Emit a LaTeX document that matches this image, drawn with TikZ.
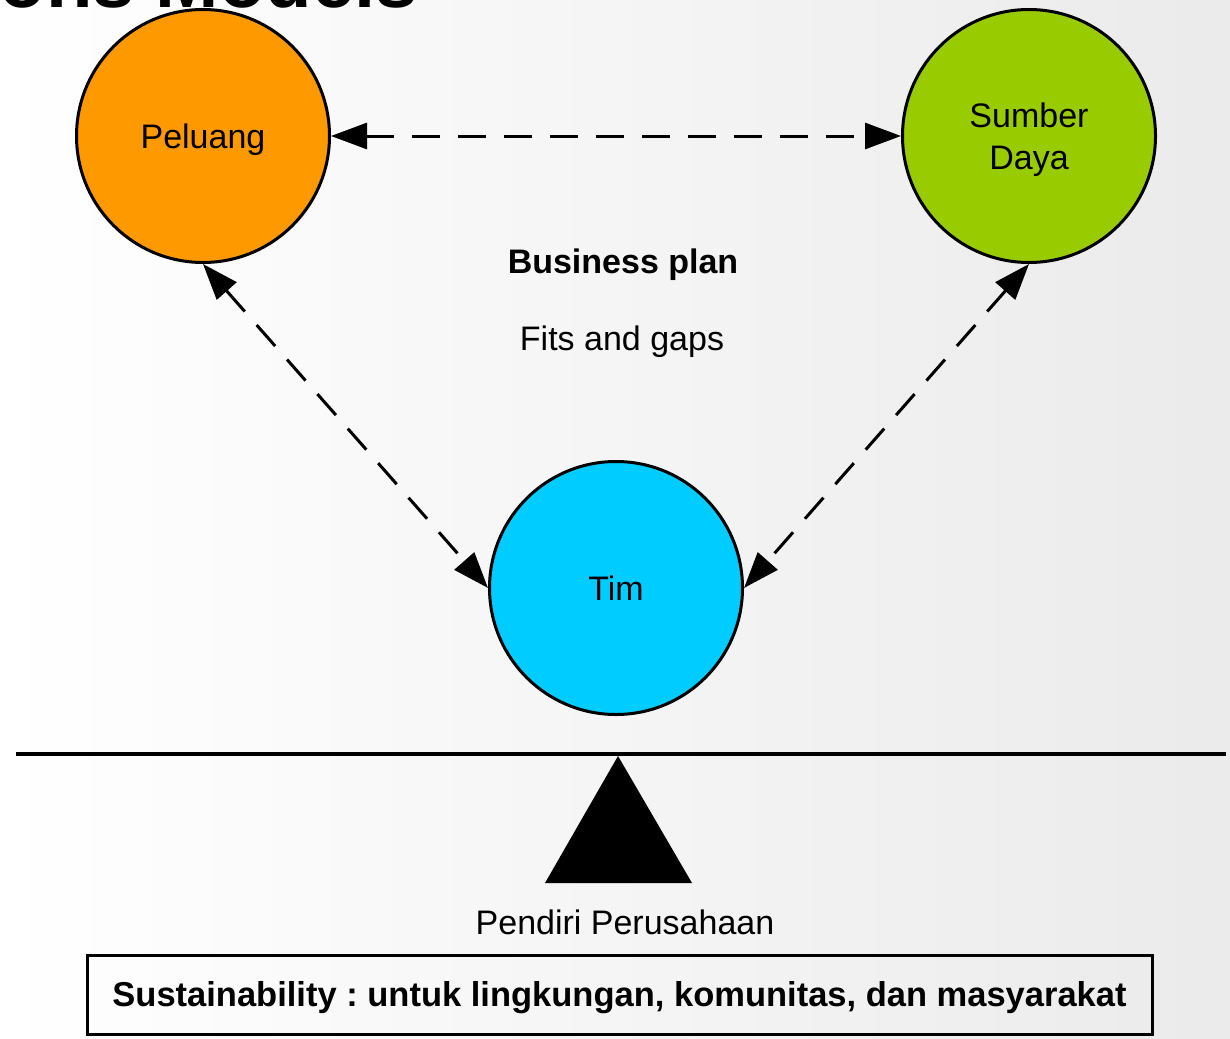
\documentclass[tikz,border=0pt]{standalone}
\usepackage{fontspec}
\setmainfont{Liberation Sans}
\usetikzlibrary{arrows.meta}
\frenchspacing
\definecolor{peluangc}{HTML}{FF9900}
\definecolor{sumberc}{HTML}{99CC00}
\definecolor{timc}{HTML}{00CCFF}
\tikzset{
  circ/.style={circle, draw=black, line width=3pt, minimum size=253pt, inner sep=0pt,
    align=center, text depth=0pt, font=\fontsize{34}{42}\selectfont},
  lbl/.style={font=\fontsize{34}{42}\selectfont, inner sep=0pt},
  dasharrow/.style={line width=3pt, dash pattern=on 28pt off 18pt,
    {Triangle[length=36pt,width=26pt]}-{Triangle[length=36pt,width=26pt]}}
}
\begin{document}
\begin{tikzpicture}[x=1pt,y=-1pt]
\useasboundingbox (0,0) rectangle (1230,1038);
\clip (0,0) rectangle (1230,1038);
\shade[left color=white, right color=black!8] (0,0) rectangle (1230,1038);
% cut-off title
\node[anchor=base east, inner sep=0pt, font=\fontsize{76}{76}\bfseries] (title) at (418,8) {Timmons Models};
% circles
\node[circ, fill=peluangc] (p) at (203,136) {Peluang};
\node[circ, fill=sumberc] (s) at (1029,136) {Sumber\\Daya};
\node[circ, fill=timc] (t) at (616,588) {Tim};
% connectors
\draw[dasharrow] (p.east) -- (s.west);
\draw[dasharrow] (p.south) -- (t.west);
\draw[dasharrow] (s.south) -- (t.east);
% labels
\node[lbl, font=\fontsize{34}{42}\bfseries] (bp) at (623,265) {Business plan};
\node[lbl] (fg) at (622,342) {Fits and gaps};
% balance
\coordinate (l1) at (16,754);
\coordinate (l2) at (1226,754);
\draw[line width=4pt] (l1) -- (l2);
\fill (618,756) -- (692,883) -- (545,883) -- cycle;
\node[lbl] (pp) at (625,922) {Pendiri Perusahaan};
\node[draw, line width=3pt, minimum width=1065pt, minimum height=79pt, inner sep=0pt,
  text depth=0pt, font=\fontsize{34.5}{42}\bfseries] (box) at (619.5,994.5)
  {\raisebox{1.5pt}{Sustainability : untuk lingkungan, komunitas, dan masyarakat}};
\end{tikzpicture}
\end{document}
